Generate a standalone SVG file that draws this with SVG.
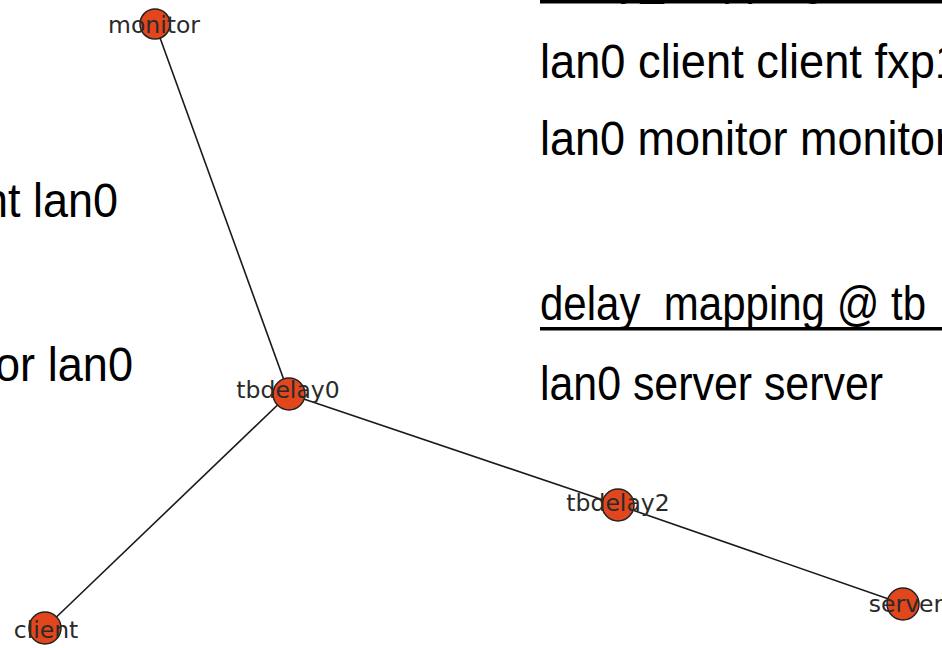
<svg xmlns="http://www.w3.org/2000/svg" width="942" height="648" viewBox="0 0 942 648">
<style>
.big{font-family:"Liberation Sans",Arial,sans-serif;font-size:49px;fill:#000}
.lbl{font-family:"DejaVu Sans",sans-serif;font-size:23.5px;fill:#2a2a2a;text-anchor:middle}
.edge{stroke:#1a1a1a;stroke-width:1.6;fill:none}
.nd{fill:#e2461c;stroke:#222;stroke-width:1.5}
</style>
<rect width="942" height="648" fill="#fff"/>
<g id="text">
<text class="big" x="540" y="-6" textLength="386" lengthAdjust="spacingAndGlyphs">delay_mapping @ tb</text>
<rect x="540" y="0" width="402" height="3.5" fill="#000"/>
<text class="big" x="540" y="78" textLength="420" lengthAdjust="spacingAndGlyphs">lan0 client client fxp1</text>
<text class="big" x="540" y="155" textLength="410" lengthAdjust="spacingAndGlyphs">lan0 monitor monitor</text>
<text class="big" x="540" y="320" textLength="386" lengthAdjust="spacingAndGlyphs">delay_mapping @ tb</text>
<rect x="540" y="327" width="402" height="3.5" fill="#000"/>
<text class="big" x="540" y="400" textLength="343" lengthAdjust="spacingAndGlyphs">lan0 server server</text>
<text class="big" x="118" y="217" text-anchor="end" textLength="135" lengthAdjust="spacingAndGlyphs">nt lan0</text>
<text class="big" x="133" y="381" text-anchor="end" textLength="138" lengthAdjust="spacingAndGlyphs">or lan0</text>
</g>
<g id="connectors">
<line class="edge" x1="155" y1="24" x2="289" y2="394"/>
<line class="edge" x1="289" y1="394" x2="45" y2="628"/>
<line class="edge" x1="289" y1="394" x2="618" y2="505"/>
<line class="edge" x1="618" y1="505" x2="903" y2="604"/>
</g>
<g id="monitor"><circle class="nd" cx="155" cy="24" r="15"/><text class="lbl" x="154" y="33">monitor</text></g>
<g id="tbdelay0"><circle class="nd" cx="289" cy="394" r="16"/><text class="lbl" x="288" y="398">tbdelay0</text></g>
<g id="tbdelay2"><circle class="nd" cx="618" cy="505" r="16"/><text class="lbl" x="618" y="511">tbdelay2</text></g>
<g id="client"><circle class="nd" cx="45" cy="628" r="16"/><text class="lbl" x="46" y="638">client</text></g>
<g id="server"><circle class="nd" cx="903" cy="604" r="16"/><text class="lbl" x="906" y="612">server</text></g>
</svg>
